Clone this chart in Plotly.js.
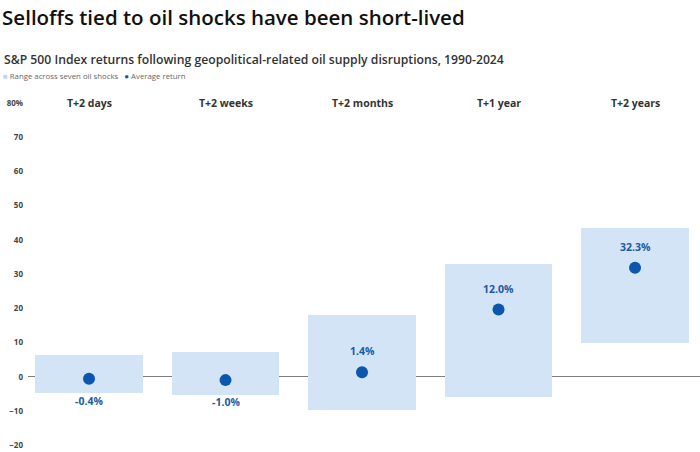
<!DOCTYPE html>
<html>
<head>
<meta charset="utf-8">
<script src="https://cdn.plot.ly/plotly-3.0.1.min.js"></script>
<style>
    html, body { margin: 0; padding: 0; background: #ffffff; }
    #chart { width: 700px; height: 452px; }
</style>
</head>
<body>
<div id="chart"></div>
<script>
// Horizons after the oil shock
const horizons = ["T+2 days", "T+2 weeks", "T+2 months", "T+1 year", "T+2 years"];

// Range across seven oil shocks (low / high, %)
const rangeLow = [-4.9, -5.3, -9.7, -6.0, 9.7];
const rangeHigh = [6.2, 7.2, 18.0, 33.0, 43.5];

// Average return: where the dot sits, and the printed label
const avgPlotted = [-0.6, -1.0, 1.3, 19.6, 31.8];
const avgLabels = ["-0.4%", "-1.0%", "1.4%", "12.0%", "32.3%"];

const yTicks = [-20, -10, 0, 10, 20, 30, 40, 50, 60, 70, 80];
const yTickText = ["\u221220", "\u221210", "0", "10", "20", "30", "40", "50", "60", "70", "80%"];

const xIdx = horizons.map((_, i) => i);

const barColor = "#d3e4f7";
const dotColor = "#0b57ad";
const labelColor = "#1b5aa3";
const fontFamily = "\"Open Sans\", \"Noto Sans\", Arial, sans-serif";

const traces = [
    {
        type: "bar",
        x: xIdx,
        base: rangeLow,
        y: rangeHigh.map((h, i) => h - rangeLow[i]),
        width: 0.79,
        marker: { color: barColor, line: { width: 0 } },
        hoverinfo: "skip",
        showlegend: false,
    },
    {
        type: "scatter",
        mode: "markers",
        x: xIdx,
        y: avgPlotted,
        marker: { size: 12, color: dotColor },
        showlegend: false,
    },
];

// headers along the top, at the 80% gridline
const headerNotes = horizons.map((h, i) => ({
    x: i, y: 80, xref: "x", yref: "y",
    text: h, showarrow: false,
    font: { family: fontFamily, size: 10.5, color: "#333333", weight: 700 },
}));

// value labels: below the range for the first two, above the dot otherwise
const valueNotes = avgLabels.map((t, i) => ({
    x: i, y: avgPlotted[i], xref: "x", yref: "y",
    text: t, showarrow: false,
    yshift: i < 2 ? -22 : 21,
    font: { family: fontFamily, size: 10.5, color: labelColor, weight: 700 },
}));

const plotH = 356;
const pxToPaperY = (p) => (452 - p) / plotH;
const pxToPaperX = (p) => (p - 28) / 672;

const layout = {
    width: 700,
    height: 452,
    margin: { l: 28, r: 0, t: 96, b: 0 },
    paper_bgcolor: "#ffffff",
    plot_bgcolor: "#ffffff",
    font: { family: fontFamily, color: "#333333" },
    title: {
        text: "Selloffs tied to oil shocks have been short-lived",
        x: 0.003, xref: "container", xanchor: "left",
        y: 1 - 18 / 452, yref: "container", yanchor: "middle",
        font: { family: fontFamily, size: 20.5, color: "#111111", weight: 600 },
    },
    xaxis: {
        range: [-0.447, 4.476],
        showgrid: false,
        zeroline: false,
        showticklabels: false,
        showline: false,
        fixedrange: true,
    },
    yaxis: {
        range: [-22, 82],
        tickvals: yTicks,
        ticktext: yTickText,
        tickfont: { family: fontFamily, size: 8, color: "#444444", weight: 700 },
        showgrid: false,
        zeroline: true,
        zerolinecolor: "#7d7d7d",
        zerolinewidth: 1,
        showline: false,
        ticks: "",
        ticklabelstandoff: 4,
        fixedrange: true,
    },
    bargap: 0,
    annotations: [
        {
            x: pxToPaperX(2), y: pxToPaperY(60), xref: "paper", yref: "paper",
            xanchor: "left", yanchor: "middle",
            text: "S&P 500 Index returns following geopolitical-related oil supply disruptions, 1990-2024",
            showarrow: false,
            font: { family: fontFamily, size: 12.2, color: "#333333", weight: 600 },
        },
        {
            x: pxToPaperX(1), y: pxToPaperY(76), xref: "paper", yref: "paper",
            xanchor: "left", yanchor: "middle",
            text: "<span style=\"color:#bcd5f0\">\u25A0</span> Range across seven oil shocks   "
                + "<span style=\"color:" + dotColor + "\">\u25CF</span> Average return",
            showarrow: false,
            font: { family: fontFamily, size: 7.8, color: "#666666" },
        },
        ...headerNotes,
        ...valueNotes,
    ],
};

Plotly.newPlot("chart", traces, layout, { displayModeBar: false, staticPlot: true });
</script>
</body>
</html>
